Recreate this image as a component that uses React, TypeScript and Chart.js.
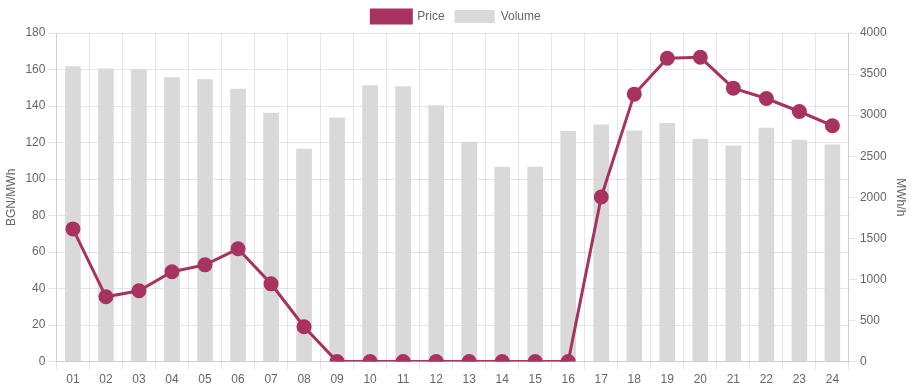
import React, { useEffect, useRef } from "react";
import { Chart, registerables } from "chart.js";

Chart.register(...registerables);

const hours = ["01","02","03","04","05","06","07","08","09","10","11","12","13","14","15","16","17","18","19","20","21","22","23","24"];
const price = [72.7, 35.5, 38.8, 49.2, 53, 61.8, 42.6, 19.1, 0, 0, 0, 0, 0, 0, 0, 0, 90.2, 146.5, 166.2, 166.7, 149.8, 144.1, 137, 129.2];
const volume = [3592, 3563, 3555, 3458, 3434, 3316, 3025, 2587, 2968, 3361, 3349, 3118, 2672, 2369, 2369, 2802, 2883, 2810, 2899, 2709, 2628, 2842, 2697, 2640];

const PRICE_COLOR = "rgb(168, 50, 96)";
const VOLUME_COLOR = "rgb(217, 217, 217)";

export default function App() {
  const ref = useRef<HTMLCanvasElement | null>(null);
  useEffect(() => {
    if (!ref.current) return;
    Chart.defaults.font.family = "'Liberation Sans', Arial, sans-serif";
    Chart.defaults.font.size = 12;
    Chart.defaults.color = "#666";
    const chart = new Chart(ref.current, {
      type: "bar",
      data: {
        labels: hours,
        datasets: [
          {
            type: "line",
            label: "Price",
            data: price,
            yAxisID: "y",
            borderColor: PRICE_COLOR,
            backgroundColor: PRICE_COLOR,
            borderWidth: 3,
            pointRadius: 6,
            pointHoverRadius: 6,
            pointBackgroundColor: PRICE_COLOR,
            pointBorderColor: PRICE_COLOR,
            tension: 0,
            order: 0,
          } as any,
          {
            type: "bar",
            label: "Volume",
            data: volume,
            yAxisID: "y1",
            backgroundColor: VOLUME_COLOR,
            borderColor: VOLUME_COLOR,
            barThickness: 15,
            order: 1,
          },
        ],
      },
      options: {
        responsive: false,
        animation: false,
        layout: { padding: { left: 0, right: 0, top: 0, bottom: 0 } },
        plugins: {
          legend: {
            position: "top",
            labels: { boxWidth: 40, boxHeight: 13, color: "#666" },
          },
          tooltip: { enabled: false },
        },
        scales: {
          x: {
            offset: true,
            grid: { offset: true, color: "rgba(0,0,0,0.1)" },
            ticks: { color: "#666" },
          },
          y: {
            position: "left",
            min: 0,
            max: 180,
            ticks: { stepSize: 20, color: "#666" },
            grid: { color: "rgba(0,0,0,0.1)" },
            title: { display: true, text: "BGN/MWh", color: "#666" },
          },
          y1: {
            position: "right",
            min: 0,
            max: 4000,
            ticks: { stepSize: 500, color: "#666", callback: (v: any) => String(v) },
            grid: { drawOnChartArea: false },
            title: { display: true, text: "MWh/h", color: "#666" },
          },
        },
      },
    });
    return () => chart.destroy();
  }, []);
  return (
    <div style={{ position: "fixed", left: 0, top: 0, width: 912, height: 390, background: "#fff" }}>
      <canvas ref={ref} width={912} height={390} style={{ display: "block" }} />
    </div>
  );
}
